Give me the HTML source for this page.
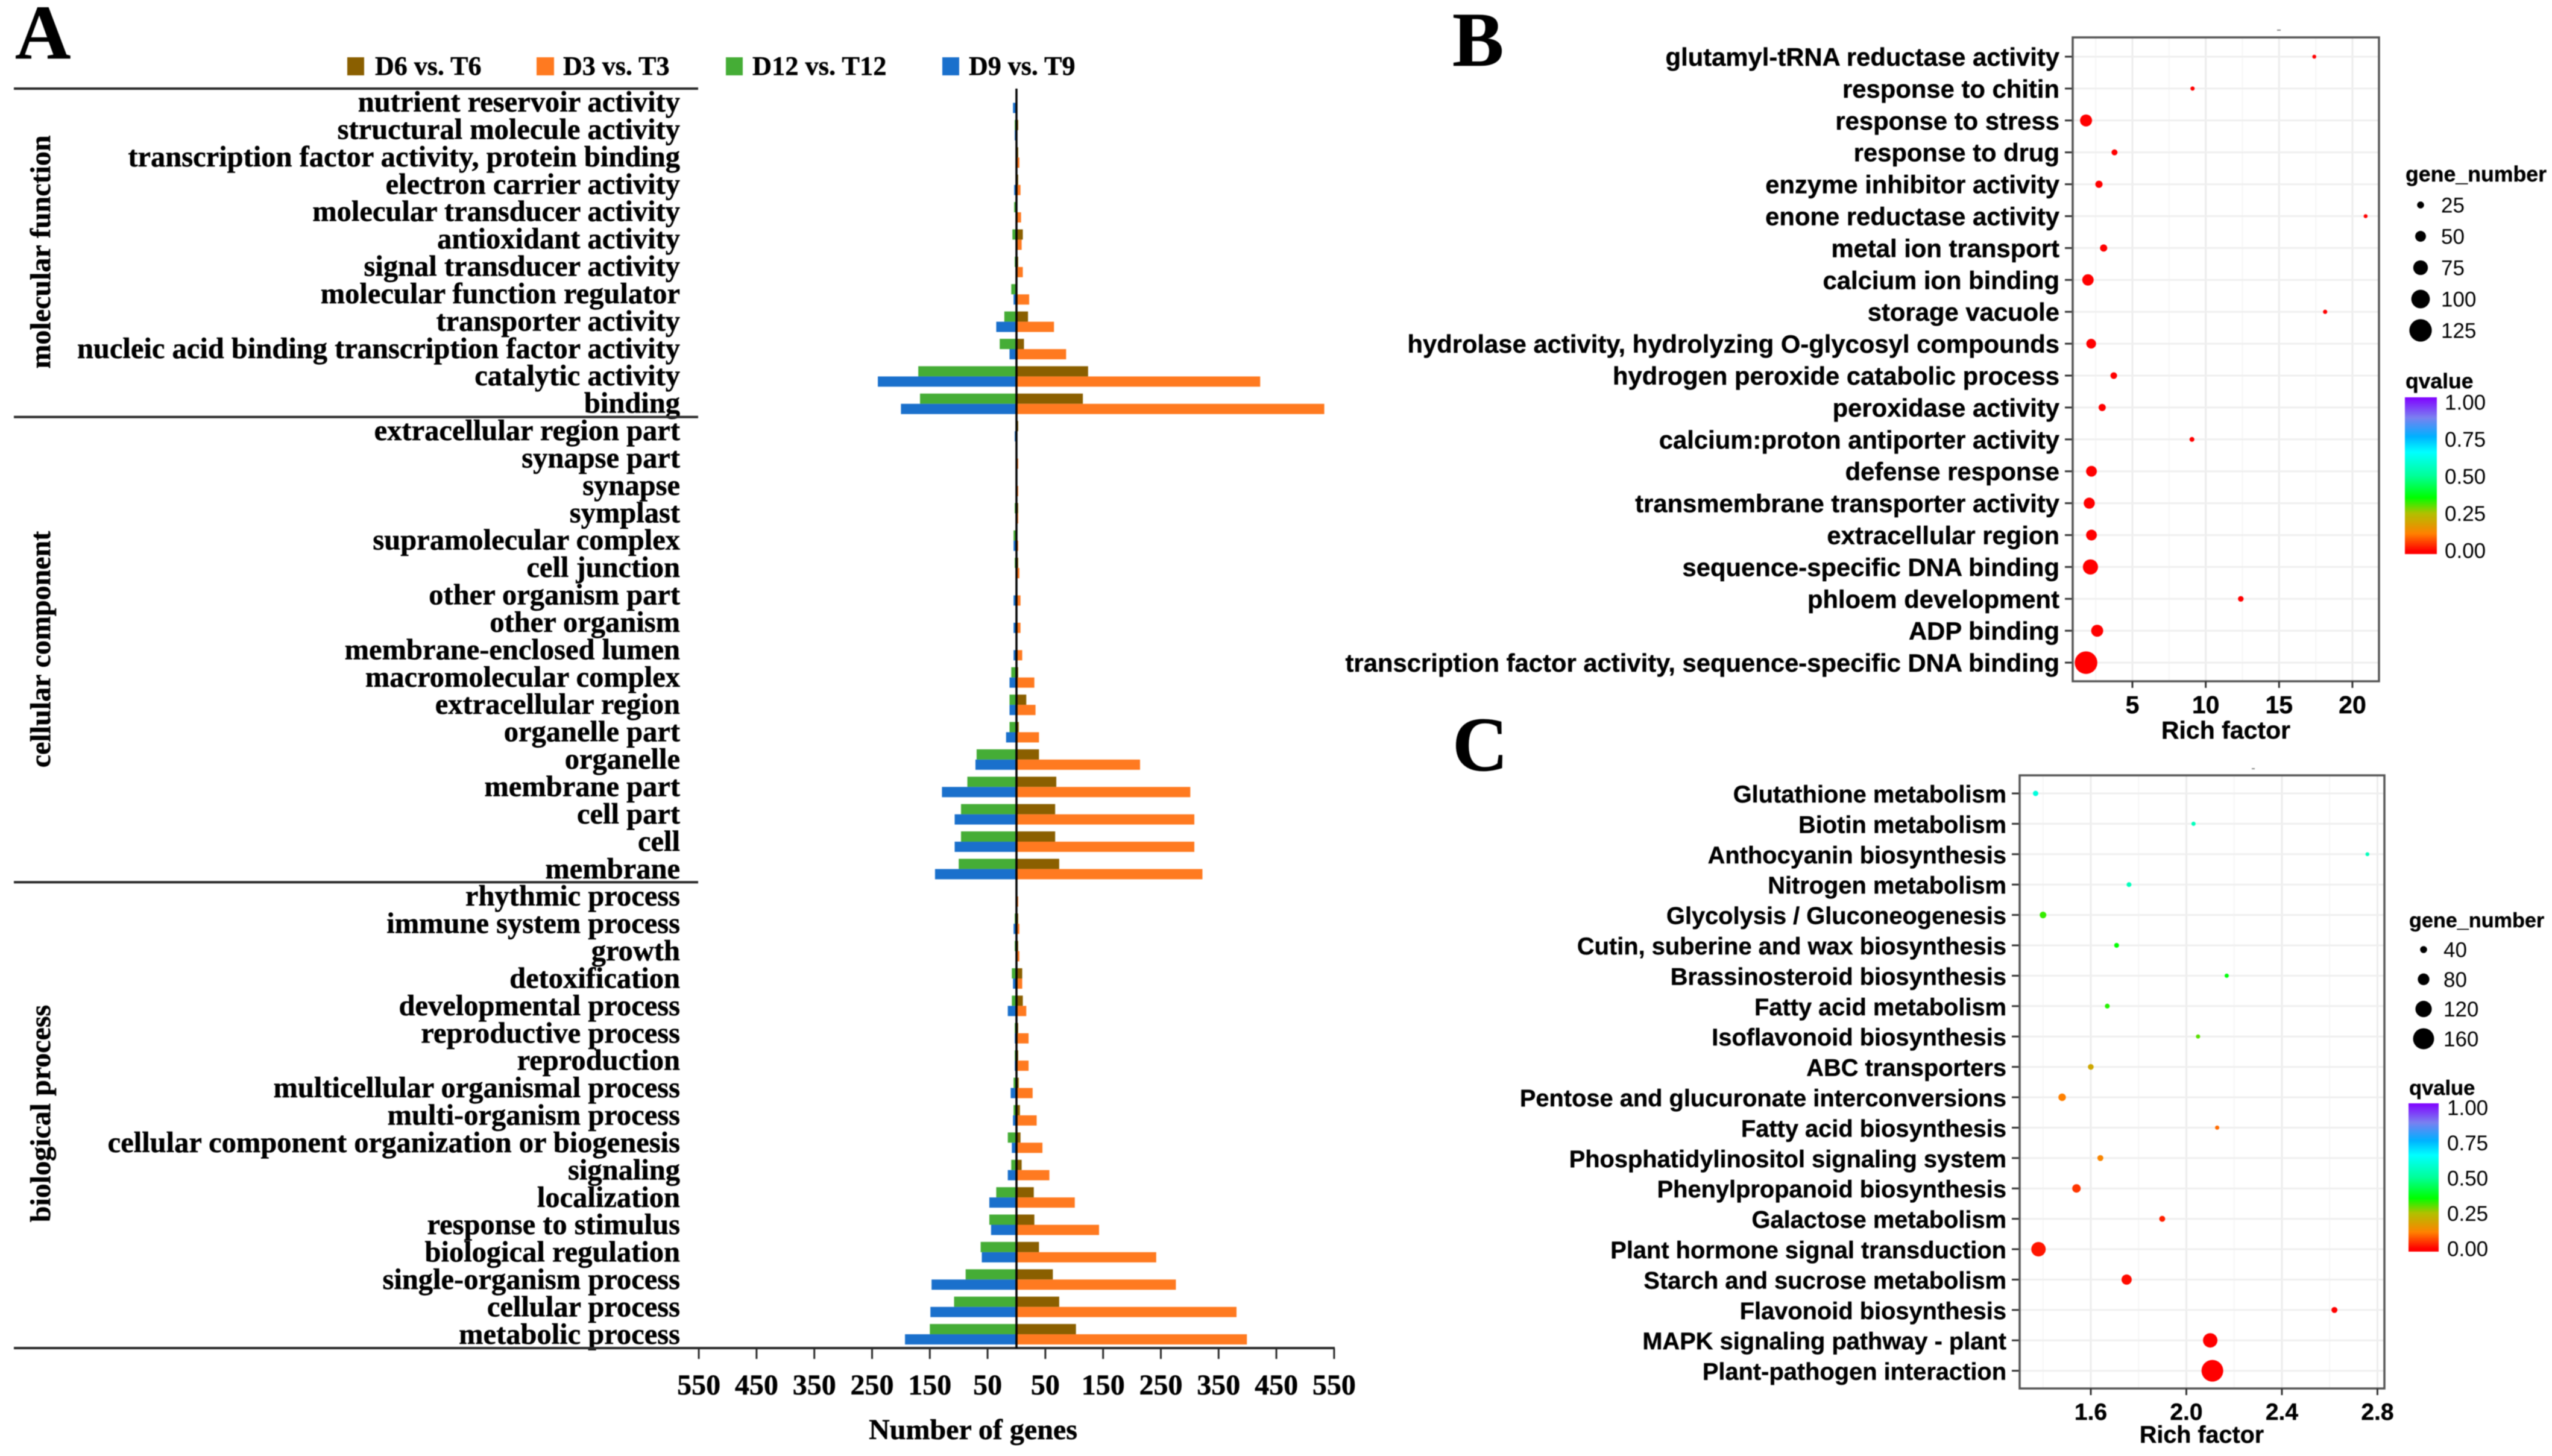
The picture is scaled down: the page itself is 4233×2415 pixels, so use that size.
<!DOCTYPE html>
<html lang="en">
<head>
<meta charset="utf-8">
<title>GO and KEGG enrichment figure</title>
<style>
html,body{margin:0;padding:0;background:#fff;}
svg{display:block;filter:blur(0.7px);}
.serif{font-family:"Liberation Serif",serif;font-weight:bold;fill:#000;stroke:#000;stroke-width:0.5px;}
.sans{font-family:"Liberation Sans",sans-serif;fill:#000;}
.b{font-weight:bold;stroke:#000;stroke-width:0.4px;}
</style>
</head>
<body>
<svg id="figure" xmlns="http://www.w3.org/2000/svg" width="4233" height="2415" viewBox="0 0 4233 2415">
  <defs>
    <linearGradient id="qgrad" x1="0" y1="1" x2="0" y2="0">
      <stop offset="0" stop-color="#ff0000"/>
      <stop offset="0.02" stop-color="#ff0000"/>
      <stop offset="0.13" stop-color="#ff8000"/>
      <stop offset="0.26" stop-color="#b0c000"/>
      <stop offset="0.36" stop-color="#00ff00"/>
      <stop offset="0.5" stop-color="#00ff99"/>
      <stop offset="0.65" stop-color="#00ffff"/>
      <stop offset="0.75" stop-color="#00b0ff"/>
      <stop offset="0.87" stop-color="#7a80f0"/>
      <stop offset="1" stop-color="#8000ff"/>
    </linearGradient>
  </defs>
  <rect width="4233" height="2415" fill="#fff"/>

  <text class="serif" x="25" y="97" font-size="128">A</text>
  <text class="serif" x="2409" y="109" font-size="128">B</text>
  <text class="serif" x="2409" y="1278" font-size="128">C</text>

  <g>
    <rect x="576" y="95" width="28" height="30" fill="#8a5f00"/>
    <text class="serif" x="622" y="124" font-size="44">D6 vs. T6</text>
    <rect x="890" y="95" width="29" height="30" fill="#ff7a20"/>
    <text class="serif" x="934" y="124" font-size="44">D3 vs. T3</text>
    <rect x="1204" y="95" width="28" height="30" fill="#45ad36"/>
    <text class="serif" x="1248" y="124" font-size="44.4">D12 vs. T12</text>
    <rect x="1563" y="95" width="28" height="30" fill="#1a70cc"/>
    <text class="serif" x="1607" y="124" font-size="44">D9 vs. T9</text>
  </g>

  <text class="serif" font-size="48" text-anchor="middle" transform="translate(83 418) rotate(-90)">molecular function</text>
  <text class="serif" font-size="48" text-anchor="middle" transform="translate(83 1077) rotate(-90)">cellular component</text>
  <text class="serif" font-size="48" text-anchor="middle" transform="translate(83 1847) rotate(-90)">biological process</text>
  <text class="serif" font-size="48" text-anchor="middle" x="1614" y="2387">Number of genes</text>

  <g id="panelA"></g>
  <g id="panelB"></g>
  <g id="panelC"></g>

  <text class="sans b" font-size="41" text-anchor="middle" x="3692" y="1225">Rich factor</text>
  <text class="sans b" font-size="39.5" text-anchor="middle" x="3652" y="2393">Rich factor</text>

  <rect x="3777" y="49" width="6" height="2" fill="#888"/>
  <rect x="3735" y="1274" width="5" height="2" fill="#888"/>

  <text class="sans b" font-size="35.7" x="3990" y="301">gene_number</text>
  <text class="sans b" font-size="35.5" x="3990" y="644">qvalue</text>
  <rect x="3989" y="659" width="53" height="260" fill="url(#qgrad)"/>
  <text class="sans b" font-size="34.2" x="3996" y="1538">gene_number</text>
  <text class="sans b" font-size="34.5" x="3996" y="1816">qvalue</text>
  <rect x="3995" y="1830" width="50" height="246" fill="url(#qgrad)"/>
</svg>

<script>
// ---------- Panel A data ----------
const goCategories = [
  "nutrient reservoir activity","structural molecule activity","transcription factor activity, protein binding","electron carrier activity","molecular transducer activity","antioxidant activity","signal transducer activity","molecular function regulator","transporter activity","nucleic acid binding transcription factor activity","catalytic activity","binding",
  "extracellular region part","synapse part","synapse","symplast","supramolecular complex","cell junction","other organism part","other organism","membrane-enclosed lumen","macromolecular complex","extracellular region","organelle part","organelle","membrane part","cell part","cell","membrane",
  "rhythmic process","immune system process","growth","detoxification","developmental process","reproductive process","reproduction","multicellular organismal process","multi-organism process","cellular component organization or biogenesis","signaling","localization","response to stimulus","biological regulation","single-organism process","cellular process","metabolic process"
];
const d6Values  = [0,3,3,3,1,11,3,1,20,13,124,115, 3,0,0,3,0,3,0,0,0,3,17,4,39,69,67,67,74, 0,3,3,10,11,3,3,4,6,7,9,30,31,39,63,74,103];
const d3Values  = [1,0,5,7,8,9,11,22,65,86,422,533, 0,3,3,3,3,5,7,7,10,31,33,39,214,301,308,308,322, 3,5,5,10,17,21,21,28,35,45,57,101,143,242,276,381,399];
const d12Values = [0,3,1,1,4,7,3,9,21,29,170,167, 0,0,0,3,5,3,1,1,1,9,12,12,69,85,96,96,100, 0,3,3,8,8,3,3,5,5,15,9,35,47,62,88,108,150];
const d9Values  = [6,3,1,4,1,1,1,5,35,12,240,200, 3,0,0,0,5,0,5,5,5,12,12,18,71,129,107,107,141, 0,5,0,6,15,3,3,10,6,8,15,47,44,60,147,149,193];
const aTickValues = [550,450,350,250,150,50];

// ---------- Panel B data ----------
const bTerms = ["glutamyl-tRNA reductase activity","response to chitin","response to stress","response to drug","enzyme inhibitor activity","enone reductase activity","metal ion transport","calcium ion binding","storage vacuole","hydrolase activity, hydrolyzing O-glycosyl compounds","hydrogen peroxide catabolic process","peroxidase activity","calcium:proton antiporter activity","defense response","transmembrane transporter activity","extracellular region","sequence-specific DNA binding","phloem development","ADP binding","transcription factor activity, sequence-specific DNA binding"];
const bRich  = [17.4,9.1,1.84,3.78,2.72,20.9,3.04,1.97,18.14,2.19,3.73,2.94,9.06,2.21,2.06,2.21,2.14,12.39,2.6,1.84];
const bGenes = [6,8,58,19,27,6,27,54,8,43,23,27,12,50,52,50,78,17,58,126];
const bQvals = [0,0,0,0,0,0,0,0,0,0,0,0,0,0,0,0,0,0,0,0];
const bTicks = [5,10,15,20];
const bMinorTicks = [2.5,7.5,12.5,17.5];
const bSizeLegend = [25,50,75,100,125];

// ---------- Panel C data ----------
const cTerms = ["Glutathione metabolism","Biotin metabolism","Anthocyanin biosynthesis","Nitrogen metabolism","Glycolysis / Gluconeogenesis","Cutin, suberine and wax biosynthesis","Brassinosteroid biosynthesis","Fatty acid metabolism","Isoflavonoid biosynthesis","ABC transporters","Pentose and glucuronate interconversions","Fatty acid biosynthesis","Phosphatidylinositol signaling system","Phenylpropanoid biosynthesis","Galactose metabolism","Plant hormone signal transduction","Starch and sucrose metabolism","Flavonoid biosynthesis","MAPK signaling pathway - plant","Plant-pathogen interaction"];
const cRich  = [1.369,2.03,2.758,1.76,1.40,1.708,2.169,1.669,2.049,1.6,1.48,2.129,1.64,1.54,1.899,1.381,1.75,2.62,2.10,2.109];
const cGenes = [27,17,14,22,37,22,17,22,17,30,45,17,32,53,32,104,68,32,104,166];
const cQvals = [0.6,0.55,0.55,0.55,0.32,0.35,0.36,0.33,0.30,0.2,0.12,0.10,0.13,0.05,0.03,0.02,0.01,0,0,0];
const cTicks = [1.6,2.0,2.4,2.8];
const cMinorTicks = [1.4,1.8,2.2,2.6];
const cSizeLegend = [40,80,120,160];
const qLegendTicks = [1,0.75,0.5,0.25,0];

const NS = "http://www.w3.org/2000/svg";
function make(parent, tag, attrs, text) {
  const node = document.createElementNS(NS, tag);
  for (const k in attrs) node.setAttribute(k, attrs[k]);
  if (text !== undefined) node.textContent = text;
  parent.appendChild(node);
  return node;
}
function slug(s) { return s.toLowerCase().replace(/[^a-z0-9]+/g, '-').replace(/^-|-$/g, ''); }

function qColor(q) {
  const stops = [[0,[255,0,0]],[0.12,[255,128,0]],[0.25,[176,192,0]],[0.35,[0,255,0]],[0.5,[0,255,153]],[0.65,[0,255,255]],[0.75,[0,176,255]],[0.87,[122,128,240]],[1,[128,0,255]]];
  for (let i = 1; i < stops.length; i++) {
    if (q <= stops[i][0]) {
      const t = (q - stops[i-1][0]) / (stops[i][0] - stops[i-1][0]);
      const a = stops[i-1][1], b = stops[i][1];
      return 'rgb(' + a.map((v, j) => Math.round(v + (b[j] - v) * t)).join(',') + ')';
    }
  }
  return 'rgb(128,0,255)';
}

// ---------- Panel A ----------
(function () {
  const g = document.getElementById('panelA');
  const x0 = 1686, pxPerGene = 0.958, top = 147, rowH = 45.39, axisY = 2236;
  const xRight = v => x0 + v * pxPerGene;
  const xLeft = v => x0 - v * pxPerGene;
  const rowTop = i => top + i * rowH;

  goCategories.forEach((name, i) => {
    const t = make(g, 'text', {class: 'serif', 'font-size': 48.5, 'text-anchor': 'end', x: 1128, y: rowTop(i) + 38 + i * 0.03}, name);
    
    

    const y1 = rowTop(i) + 6.5, h = 17, y2 = y1 + h;
    const brown = make(g, 'rect', {x: x0, y: y1, width: Math.max(0, xRight(d6Values[i]) - x0), height: h, fill: '#8a5f00'});
    
    
    const orange = make(g, 'rect', {x: x0, y: y2, width: Math.max(0, xRight(d3Values[i]) - x0), height: h, fill: '#ff7a20'});
    
    
    const green = make(g, 'rect', {x: xLeft(d12Values[i]), y: y1, width: Math.max(0, x0 - xLeft(d12Values[i])), height: h, fill: '#45ad36'});
    
    
    const blue = make(g, 'rect', {x: xLeft(d9Values[i]), y: y2, width: Math.max(0, x0 - xLeft(d9Values[i])), height: h, fill: '#1a70cc'});
    
    
  });

  [0, 12, 29].forEach(i => {
    const sep = make(g, 'rect', {x: 23, y: rowTop(i) - 2, width: 1135, height: 4, fill: '#2a2a2a'});
    
    
  });
  const axis = make(g, 'rect', {x: 23, y: axisY - 2, width: 2191, height: 4, fill: '#2a2a2a'});
  
  
  const zero = make(g, 'rect', {x: x0 - 1.75, y: top, width: 3.5, height: axisY - top, fill: '#000'});
  
  

  aTickValues.forEach(v => {
    [xLeft(v), xRight(v)].forEach(px => {
      const tick = make(g, 'rect', {x: px - 1.5, y: axisY, width: 3, height: 18, fill: '#2a2a2a'});
      
      
      const label = make(g, 'text', {class: 'serif', 'font-size': 48, 'text-anchor': 'middle', x: px, y: 2313}, String(v));
      
      
    });
  });
})();

// ---------- Shared dot-plot renderer ----------
function dotPanel(opts) {
  const g = opts.group;
  const {left, right, top, bottom} = opts.box;
  const frameBg = make(g, 'rect', {x: left, y: top, width: right - left, height: bottom - top, fill: '#fff'});
  
  

  opts.minor.forEach(v => {
    const l = make(g, 'line', {x1: opts.x(v), x2: opts.x(v), y1: top, y2: bottom, stroke: '#f6f6f6', 'stroke-width': 2});
    
    
  });
  opts.ticks.forEach(v => {
    const l = make(g, 'line', {x1: opts.x(v), x2: opts.x(v), y1: top, y2: bottom, stroke: '#ececec', 'stroke-width': 3});
    
    
  });
  opts.terms.forEach((term, i) => {
    const y = opts.y(i);
    const l = make(g, 'line', {x1: left, x2: right, y1: y, y2: y, stroke: '#efefef', 'stroke-width': 3});
    
    
    const tick = make(g, 'line', {x1: left - 13, x2: left, y1: y, y2: y, stroke: '#333', 'stroke-width': 3});
    
    
    const t = make(g, 'text', {class: 'sans b', 'font-size': opts.labelSize, 'text-anchor': 'end', x: opts.labelRight, y: y + 15}, term);
    
    
  });
  opts.terms.forEach((term, i) => {
    const c = make(g, 'circle', {cx: opts.x(opts.rich[i]), cy: opts.y(i), r: opts.d(opts.genes[i]) / 2, fill: qColor(opts.qvals[i])});
    
    
  });
  const frame = make(g, 'rect', {x: left, y: top, width: right - left, height: bottom - top, fill: 'none', stroke: '#555', 'stroke-width': 3.5});
  
  

  opts.ticks.forEach(v => {
    const tick = make(g, 'line', {x1: opts.x(v), x2: opts.x(v), y1: bottom, y2: bottom + 11, stroke: '#333', 'stroke-width': 3});
    
    
    const t = make(g, 'text', {class: 'sans b', 'font-size': opts.tickSize, 'text-anchor': 'middle', x: opts.x(v), y: opts.tickBaseline}, opts.fmt(v));
    
    
  });

  opts.sizeLegend.forEach((v, i) => {
    const y = opts.legend.sizeY + i * opts.legend.sizeStep;
    const c = make(g, 'circle', {cx: opts.legend.dotX, cy: y, r: opts.d(v) / 2, fill: '#000'});
    
    
    const t = make(g, 'text', {class: 'sans', 'font-size': 35, x: opts.legend.textX, y: y + 12.5}, String(v));
    
    
  });

  qLegendTicks.forEach(q => {
    const y = opts.legend.qY(q);
    const t = make(g, 'text', {class: 'sans', 'font-size': 35, x: opts.legend.qTextX, y: y + 12.5}, q.toFixed(2));
    
    
  });
}

// ---------- Panel B ----------
(function () {
  const xB = v => 3537 + (v - 5) * 24.33;
  const yB = i => 94 + i * 52.9;
  dotPanel({
    group: document.getElementById('panelB'),
    box: {left: 3438, right: 3946, top: 62, bottom: 1130},
    terms: bTerms, rich: bRich, genes: bGenes, qvals: bQvals,
    ticks: bTicks, minor: bMinorTicks, sizeLegend: bSizeLegend,
    x: xB, y: yB, d: g => 5 + 0.258 * g,
    labelSize: 41.8, labelRight: 3416, tickSize: 41, tickBaseline: 1183,
    fmt: v => String(v),
    legend: {sizeY: 340, sizeStep: 52, dotX: 4015, textX: 4049, qTextX: 4055, qY: q => 913 - q * 246}
  });
})();

// ---------- Panel C ----------
(function () {
  const xC = v => 3468 + (v - 1.6) * 396.2;
  const yC = i => 1316 + i * 50.4;
  dotPanel({
    group: document.getElementById('panelC'),
    box: {left: 3350, right: 3955, top: 1286, bottom: 2303},
    terms: cTerms, rich: cRich, genes: cGenes, qvals: cQvals,
    ticks: cTicks, minor: cMinorTicks, sizeLegend: cSizeLegend,
    x: xC, y: yC, d: g => 3.7 + 0.195 * g,
    labelSize: 39.8, labelRight: 3328, tickSize: 39, tickBaseline: 2355,
    fmt: v => v.toFixed(1),
    legend: {sizeY: 1575, sizeStep: 49.3, dotX: 4020, textX: 4053, qTextX: 4059, qY: q => 2071 - q * 234}
  });
})();
</script>
</body>
</html>
